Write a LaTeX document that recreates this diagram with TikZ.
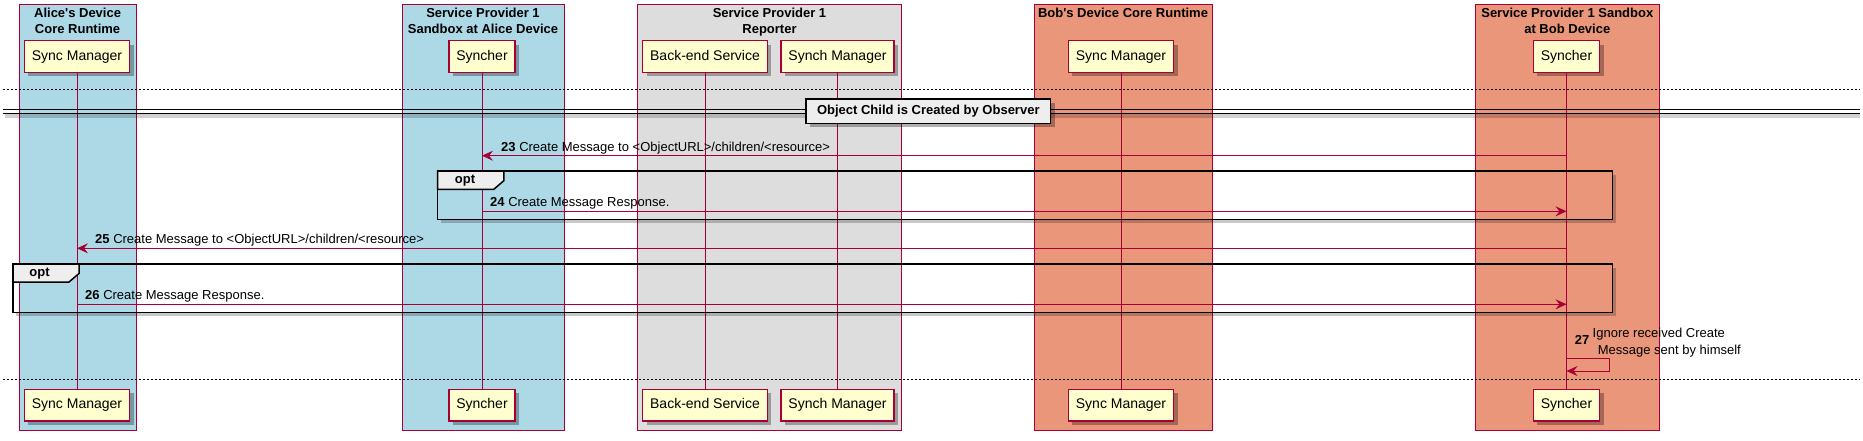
\documentclass[tikz,border=0pt]{standalone}
\usepackage{fontspec}
\setmainfont{Liberation Sans}[Ligatures=TeXOff]
\usetikzlibrary{shadows,arrows.meta}
\definecolor{crim}{HTML}{A80036}
\definecolor{pfill}{HTML}{FEFECE}
\definecolor{lblue}{HTML}{ADD8E6}
\definecolor{rgray}{HTML}{DDDDDD}
\definecolor{dsalmon}{HTML}{E9967A}
\definecolor{tabfill}{HTML}{EEEEEE}
\begin{document}
\begin{tikzpicture}[x=1pt,y=-1pt,
  part/.style={draw=crim, line width=1.2pt, fill=pfill, minimum height=31.6pt, inner xsep=7.4pt, inner ysep=0pt, outer sep=0pt,
    text height=10.2pt, text depth=3pt,
    font=\fontsize{14}{16}\selectfont,
    drop shadow={shadow xshift=4pt, shadow yshift=-4pt, opacity=0.3, fill=black}},
  grp/.style={draw=crim, line width=0.8pt},
  ttl/.style={font=\bfseries\fontsize{13}{15}\selectfont, anchor=base, inner sep=0pt},
  life/.style={draw=crim, line width=0.8pt},
  msg/.style={draw=crim, line width=0.8pt, -{Stealth[length=11pt,width=10pt,inset=4pt]}},
  mlabel/.style={font=\fontsize{13}{15}\selectfont, anchor=base west, inner sep=0pt},
  frame/.style={draw=black, line width=1.5pt},
  fshadow/.style={draw=black, opacity=0.22, line width=3pt},
  tab/.style={fill=tabfill, draw=black, line width=1.5pt},
  tabtext/.style={font=\bfseries\fontsize{13}{15}\selectfont, inner sep=0pt},
  divbox/.style={fill=tabfill, draw=black, line width=1.5pt, minimum width=244.5pt, minimum height=24.3pt, inner sep=0pt,
    font=\bfseries\fontsize{13}{15}\selectfont,
    drop shadow={shadow xshift=4pt, shadow yshift=-4pt, opacity=0.3, fill=black}},
  sep/.style={draw=black, line width=0.8pt, dash pattern=on 2pt off 2pt}
]
\useasboundingbox (0,0) rectangle (1863,441);

% group boxes
\filldraw[grp, fill=lblue] (19,4.3) rectangle (136.2,430.3);
\filldraw[grp, fill=lblue] (402,4.3) rectangle (564,430.3);
\filldraw[grp, fill=rgray] (637.4,4.3) rectangle (901.6,430.3);
\filldraw[grp, fill=dsalmon] (1034,4.3) rectangle (1212,430.3);
\filldraw[grp, fill=dsalmon] (1475.6,4.3) rectangle (1659,430.3);

% group titles
\node[ttl] (t1a) at (77.6,17.4) {Alice's Device};
\node[ttl] (t1b) at (77.6,34) {Core Runtime};
\node[ttl] (t2a) at (483,17.4) {Service Provider 1};
\node[ttl] (t2b) at (483,34) {Sandbox at Alice Device};
\node[ttl] (t3a) at (769.5,17.4) {Service Provider 1};
\node[ttl] (t3b) at (769.5,34) {Reporter};
\node[ttl] (t4a) at (1123,17.4) {Bob's Device Core Runtime};
\node[ttl] (t5a) at (1567.3,17.4) {Service Provider 1 Sandbox};
\node[ttl] (t5b) at (1567.3,34) {at Bob Device};

% participants
\node[part] (a1) at (77,56.5) {Sync Manager};
\node[part] (a2) at (482,56.5) {Syncher};
\node[part] (r1) at (705,56.5) {Back-end Service};
\node[part] (r2) at (837.5,56.5) {Synch Manager};
\node[part] (b1) at (1121,56.5) {Sync Manager};
\node[part] (b2) at (1566.5,56.5) {Syncher};

\node[part] (a1e) at (77,405.2) {Sync Manager};
\node[part] (a2e) at (482,405.2) {Syncher};
\node[part] (r1e) at (705,405.2) {Back-end Service};
\node[part] (r2e) at (837.5,405.2) {Synch Manager};
\node[part] (b1e) at (1121,405.2) {Sync Manager};
\node[part] (b2e) at (1566.5,405.2) {Syncher};

% lifelines
\draw[life] (a1) -- (a1e);
\draw[life] (a2) -- (a2e);
\draw[life] (r1) -- (r1e);
\draw[life] (r2) -- (r2e);
\draw[life] (b1) -- (b1e);
\draw[life] (b2) -- (b2e);

% separators
\draw[sep] (3,89) -- (1860,89);
\draw[sep] (3,379.3) -- (1860,379.3);

% divider
\fill[black, opacity=0.18] (5,114.5) rectangle (1860,118.5);
\draw[black, line width=1pt] (3,110) -- (1860,110);
\draw[black, line width=1pt] (3,113.5) -- (1860,113.5);
\node[divbox] (div) at (928.3,111.2) {Object Child is Created by Observer};

% opt frame 1
\draw[fshadow] (441,221.5) -- (1614.5,221.5) -- (1614.5,175);
\draw[frame] (437.6,171) rectangle (1612.3,219.3);
\filldraw[tab] (437.6,171) -- (503.8,171) -- (503.8,180.7) -- (493.8,189.3) -- (437.6,189.3) -- cycle;
\node[tabtext] (opt1) at (465,180.5) {opt};

% opt frame 2
\draw[fshadow] (16,314.5) -- (1614.5,314.5) -- (1614.5,268);
\draw[frame] (13,264) rectangle (1612.3,312.3);
\filldraw[tab] (13,264) -- (79,264) -- (79,273.5) -- (69,282) -- (13,282) -- cycle;
\node[tabtext] (opt2) at (39.5,273.2) {opt};

% messages
\draw[msg] (b2 |- 0,155.7) -- (a2 |- 0,155.7);
\node[mlabel] (l23) at (501,151.2) {\textbf{23} Create Message to <ObjectURL>/children/<resource>};

\draw[msg] (a2 |- 0,211.3) -- (b2 |- 0,211.3);
\node[mlabel] (l24) at (490,206.8) {\textbf{24} Create Message Response.};

\draw[msg] (b2 |- 0,248.3) -- (a1 |- 0,248.3);
\node[mlabel] (l25) at (95,243.8) {\textbf{25} Create Message to <ObjectURL>/children/<resource>};

\draw[msg] (a1 |- 0,304.3) -- (b2 |- 0,304.3);
\node[mlabel] (l26) at (85,299.8) {\textbf{26} Create Message Response.};

\draw[msg] (b2 |- 0,358.7) -- (1609,358.7) -- (1609,371) -- (b2 |- 0,371);
\node[mlabel] (l27) at (1574.6,344.6) {\textbf{27}};
\node[mlabel] (l27a) at (1592.5,337.3) {Ignore received Create};
\node[mlabel] (l27b) at (1597.6,354) {Message sent by himself};
\end{tikzpicture}
\end{document}
